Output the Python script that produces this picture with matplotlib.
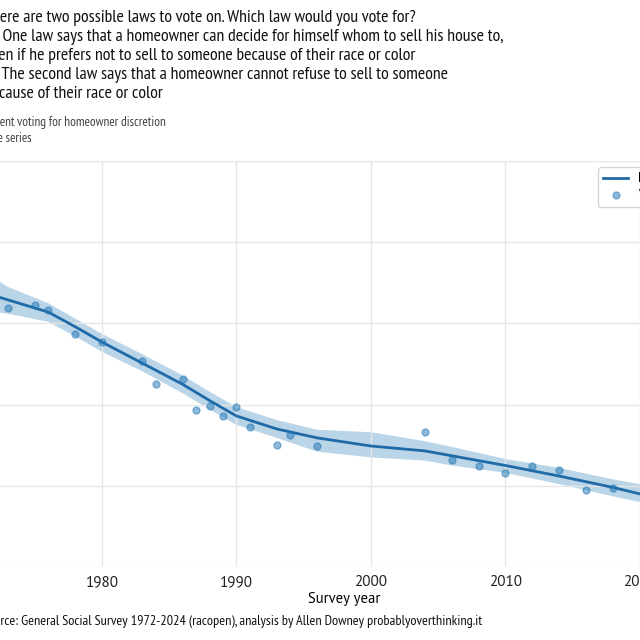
import matplotlib
matplotlib.use("Agg")
import matplotlib.pyplot as plt

plt.rcParams["font.family"] = ["PT Sans", "Lato", "DejaVu Sans"]
NARROW = ["PT Sans Narrow", "PT Sans", "DejaVu Sans"]

# survey years and percent voting for homeowner discretion
years = [1973, 1975, 1976, 1978, 1980, 1983, 1984, 1986, 1987, 1988, 1989,
         1990, 1991, 1993, 1994, 1996, 2004, 2006, 2008, 2010, 2012, 2014,
         2016, 2018]
values = [61.9, 62.3, 61.6, 58.7, 57.7, 55.4, 52.5, 53.2, 49.3, 49.8, 48.6,
          49.7, 47.3, 45.0, 46.3, 44.9, 46.6, 43.2, 42.5, 41.6, 42.4, 41.9,
          39.5, 39.7]

# smoothed curve with its interval
smooth_years = [1972, 1973, 1976, 1978, 1980, 1983, 1986, 1988, 1990, 1993,
                1996, 2000, 2004, 2006, 2010, 2014, 2018, 2020, 2022, 2024]
smooth = [63.4, 62.9, 61.4, 59.6, 57.7, 55.1, 52.5, 50.5, 48.6, 47.0,
          45.9, 44.9, 44.3, 43.7, 42.5, 41.2, 39.8, 39.0, 37.9, 36.8]
upper = [65.6, 64.5, 62.5, 60.6, 58.7, 56.2, 53.6, 51.6, 49.7, 48.1,
         46.9, 46.6, 45.5, 44.8, 43.3, 42.2, 40.8, 40.2, 39.3, 38.4]
lower = [61.4, 61.2, 60.2, 58.4, 56.5, 54.1, 51.4, 49.4, 47.5, 45.9,
         44.2, 43.5, 43.1, 42.5, 41.6, 40.2, 38.7, 38.0, 36.5, 35.2]

x_ticks = [1980, 1990, 2000, 2010, 2020]
y_ticks = [30, 40, 50, 60, 70, 80]

title = ("There are two possible laws to vote on. Which law would you vote for?\n"
         "A.  One law says that a homeowner can decide for himself whom to sell his house to,\n"
         "even if he prefers not to sell to someone because of their race or color\n"
         "B.  The second law says that a homeowner cannot refuse to sell to someone\n"
         "because of their race or color")
subtitle = "Percent voting for homeowner discretion\nTime series"
source = ("Source: General Social Survey 1972-2024 (racopen), "
          "analysis by Allen Downey probablyoverthinking.it")

W, H = 640, 640
fig = plt.figure(figsize=(6.4, 6.4), dpi=100)
ax = fig.add_axes([-40.6 / W, 1 - 567 / H, 769.3 / W, 406 / H])

ax.fill_between(smooth_years, lower, upper, color="#1f77b4", alpha=0.3,
                linewidth=0)
ax.plot(smooth_years, smooth, color="#1f6aa8", linewidth=2, label="LOWESS fit")
ax.plot(years, values, "o", color="#1f77b4", alpha=0.5, markersize=5,
        label="Values")

ax.set_xlim(1969.4, 2026.6)
ax.set_ylim(30, 80)
ax.set_xticks(x_ticks)
ax.set_yticks(y_ticks)
ax.tick_params(length=0, labelsize=11, colors="#222222", pad=6)
ax.grid(True, color="#e6e6e6", linewidth=1)
for side in ax.spines:
    ax.spines[side].set_visible(False)
ax.set_xlabel("Survey year", fontsize=10.5, labelpad=2)

ax.legend(loc="upper left", bbox_to_anchor=(598 / W, 1 - 167 / H),
          bbox_transform=fig.transFigure, borderaxespad=0, fontsize=9,
          labelspacing=0.35, frameon=True, edgecolor="#cccccc")

fig.text(-16 / W, 1 - 10 / H, title, fontsize=12.9, va="top", ha="left",
         linespacing=1.26, color="#111111", family=NARROW)
fig.text(-20 / W, 1 - 116 / H, subtitle, fontsize=9.5, va="top", ha="left",
         linespacing=1.35, color="#444444", family=NARROW)
fig.text(-18 / W, 1 - 622 / H, source, fontsize=10.3, va="center", ha="left",
         color="#111111", family=NARROW)

fig.savefig("out.png", dpi=100)
